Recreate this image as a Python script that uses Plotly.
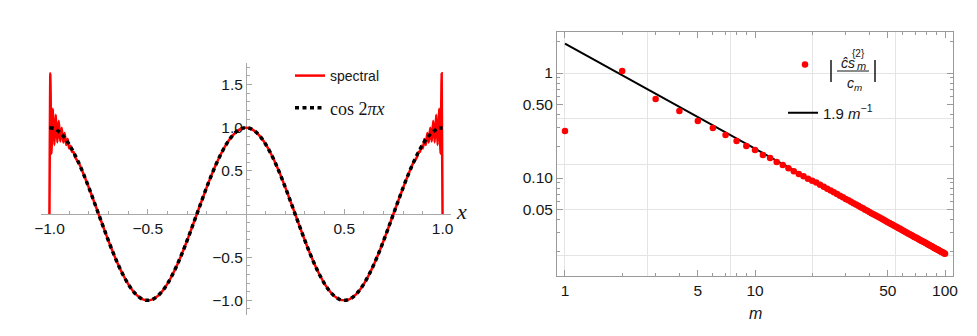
import plotly.graph_objects as go

W, H = 977, 336

# left panel: cos 2πx and its spectral approximation
cos_x = [round(-1 + 0.025 * i, 3) for i in range(81)]
cos_y = [1.0, 0.988, 0.951, 0.891, 0.809, 0.707, 0.588, 0.454, 0.309, 0.156, 0.0,
         -0.156, -0.309, -0.454, -0.588, -0.707, -0.809, -0.891, -0.951, -0.988, -1.0,
         -0.988, -0.951, -0.891, -0.809, -0.707, -0.588, -0.454, -0.309, -0.156, 0.0,
         0.156, 0.309, 0.454, 0.588, 0.707, 0.809, 0.891, 0.951, 0.988, 1.0,
         0.988, 0.951, 0.891, 0.809, 0.707, 0.588, 0.454, 0.309, 0.156, 0.0,
         -0.156, -0.309, -0.454, -0.588, -0.707, -0.809, -0.891, -0.951, -0.988, -1.0,
         -0.988, -0.951, -0.891, -0.809, -0.707, -0.588, -0.454, -0.309, -0.156, 0.0,
         0.156, 0.309, 0.454, 0.588, 0.707, 0.809, 0.891, 0.951, 0.988, 1.0]

# Gibbs oscillations at the two ends
spec_left_x = [-1.0, -0.9955, -0.990, -0.9825, -0.975, -0.9675, -0.960, -0.9525, -0.945,
               -0.9375, -0.930, -0.9225, -0.915, -0.9075, -0.900, -0.8925, -0.885, -0.8775, -0.870]
spec_left_y = [0.0, 1.63, 0.70, 1.22, 0.80, 1.15, 0.83, 1.08, 0.84,
               1.00, 0.83, 0.94, 0.80, 0.87, 0.76, 0.79, 0.72, 0.72, 0.66]
spec_right_x = [0.870, 0.8775, 0.885, 0.8925, 0.900, 0.9075, 0.915, 0.9225, 0.930,
                0.9375, 0.945, 0.9525, 0.960, 0.9675, 0.975, 0.9825, 0.990, 0.9955, 1.0]
spec_right_y = [0.66, 0.72, 0.72, 0.79, 0.76, 0.87, 0.80, 0.94, 0.83,
                1.00, 0.84, 1.08, 0.83, 1.15, 0.80, 1.22, 0.70, 1.63, 0.0]

spec_x = spec_left_x + cos_x[6:75] + spec_right_x
spec_y = spec_left_y + cos_y[6:75] + spec_right_y

# right panel: coefficient ratios vs m
m_vals = list(range(1, 101))
ratio_vals = [0.28, 1.045, 0.565, 0.435, 0.35, 0.30, 0.257, 0.225, 0.202, 0.185,
              0.166, 0.155, 0.142, 0.133, 0.124, 0.116, 0.109, 0.104, 0.0985, 0.094,
              0.0905, 0.0864, 0.0826, 0.0792, 0.0760, 0.0731, 0.0704, 0.0679, 0.0655, 0.0633,
              0.0613, 0.0594, 0.0576, 0.0559, 0.0543, 0.0528, 0.0514, 0.0500, 0.0487, 0.0475,
              0.0463, 0.0452, 0.0442, 0.0432, 0.0422, 0.0413, 0.0404, 0.0396, 0.0388, 0.0380,
              0.0373, 0.0365, 0.0358, 0.0352, 0.0345, 0.0339, 0.0333, 0.0328, 0.0322, 0.0317,
              0.0311, 0.0306, 0.0302, 0.0297, 0.0292, 0.0288, 0.0284, 0.0279, 0.0275, 0.0271,
              0.0268, 0.0264, 0.0260, 0.0257, 0.0253, 0.0250, 0.0247, 0.0244, 0.0241, 0.0238,
              0.0235, 0.0232, 0.0229, 0.0226, 0.0224, 0.0221, 0.0218, 0.0216, 0.0213, 0.0211,
              0.0209, 0.0207, 0.0204, 0.0202, 0.0200, 0.0198, 0.0196, 0.0194, 0.0192, 0.0190]
fit_m = [1, 100]
fit_y = [1.9, 0.019]

# log-scale gridlines sit at powers of e
grid_x = [1.0, 2.718, 7.389, 20.09, 54.60]
grid_y = [1.0, 0.3679, 0.1353, 0.04979, 0.01832]

x_major = [1, 5, 10, 50, 100]
x_minor = [2, 3, 4, 6, 7, 8, 9, 20, 30, 40, 60, 70, 80, 90]
y_major = [0.05, 0.1, 0.5, 1]
y_major_text = ["0.05", "0.10", "0.50", "1"]
y_minor = [0.02, 0.03, 0.04, 0.06, 0.07, 0.08, 0.09, 0.2, 0.3, 0.4, 0.6, 0.7, 0.8, 0.9, 2]

SANS = "Liberation Sans"
SERIF = "Liberation Serif"
TXT = "#161616"


def px(x):
    return x / W


def py(y):
    return 1 - y / H


fig = go.Figure()

fig.add_trace(go.Scatter(
    x=spec_x, y=spec_y, mode="lines", name="spectral",
    line=dict(color="#ff0000", width=2.5, shape="spline", smoothing=0.5),
    xaxis="x", yaxis="y", legend="legend",
))
fig.add_trace(go.Scatter(
    x=cos_x, y=cos_y, mode="lines", name="cos 2<i>πx</i>",
    line=dict(color="black", width=3.5, dash="4px,3.5px", shape="spline"),
    xaxis="x", yaxis="y", legend="legend2",
))
fig.add_trace(go.Scatter(
    x=fit_m, y=fit_y, mode="lines", name="1.9 <i>m</i><sup>−1</sup>",
    line=dict(color="black", width=2),
    xaxis="x2", yaxis="y2", legend="legend4",
))
fig.add_trace(go.Scatter(
    x=m_vals, y=ratio_vals, mode="markers", name=" ",
    marker=dict(color="#ff0000", size=6.5),
    xaxis="x2", yaxis="y2", legend="legend3",
))
# empty trace to hold the grid axes
fig.add_trace(go.Scatter(x=[], y=[], xaxis="x3", yaxis="y3", showlegend=False))

left_dom_x = [px(33), px(443)]
left_dom_y = [py(307), py(55)]
right_dom_x = [px(549), px(945)]
right_dom_y = [py(268), py(24)]

tickfont = dict(family=SANS, size=15.5, color=TXT)
axis_gray = "#a8a8a8"
frame_gray = "#9a9a9a"

fig.update_layout(
    width=W, height=H,
    margin=dict(l=0, r=0, t=0, b=0),
    paper_bgcolor="white", plot_bgcolor="white",
    showlegend=True,
    xaxis=dict(
        domain=left_dom_x, range=[-1.043, 1.043], anchor="free", position=py(206),
        showgrid=False, zeroline=False, showline=True, linecolor=axis_gray, linewidth=1,
        tickvals=[-1, -0.5, 0.5, 1], ticktext=["−1.0", "−0.5", "0.5", "1.0"],
        ticks="inside", ticklen=5, tickcolor=axis_gray, tickfont=tickfont,
        minor=dict(dtick=0.1, tick0=0, ticks="inside", ticklen=3, tickcolor=axis_gray),
        layer="below traces", automargin=False,
    ),
    yaxis=dict(
        domain=left_dom_y, range=[-1.17, 1.75], anchor="free", position=px(238),
        showgrid=False, zeroline=False, showline=True, linecolor=axis_gray, linewidth=1,
        tickvals=[-1, -0.5, 0.5, 1, 1.5], ticktext=["−1.0", "−0.5", "0.5", "1.0", "1.5"],
        ticks="inside", ticklen=5, tickcolor=axis_gray, tickfont=tickfont,
        minor=dict(dtick=0.1, tick0=0, ticks="inside", ticklen=3, tickcolor=axis_gray),
        layer="below traces", automargin=False,
    ),
    xaxis2=dict(
        domain=right_dom_x, type="log", range=[-0.042, 2.042], anchor="y2",
        showgrid=False, zeroline=False, showline=True, mirror="allticks",
        linecolor=frame_gray, linewidth=1,
        tickvals=x_major, ticktext=[str(v) for v in x_major],
        ticks="inside", ticklen=6, tickcolor=frame_gray, tickfont=tickfont,
        minor=dict(tickmode="array", tickvals=x_minor, ticks="inside", ticklen=3,
                   tickcolor=frame_gray, showgrid=False),
        automargin=False,
    ),
    yaxis2=dict(
        domain=right_dom_y, type="log", range=[-1.933, 0.3905], anchor="x2",
        showgrid=False, zeroline=False, showline=True, mirror="allticks",
        linecolor=frame_gray, linewidth=1,
        tickvals=y_major, ticktext=y_major_text,
        ticks="inside", ticklen=6, tickcolor=frame_gray, tickfont=tickfont,
        minor=dict(tickmode="array", tickvals=y_minor, ticks="inside", ticklen=3,
                   tickcolor=frame_gray, showgrid=False),
        automargin=False,
    ),
    xaxis3=dict(
        domain=right_dom_x, type="log", range=[-0.042, 2.042], overlaying="x2", anchor="y3",
        tickvals=grid_x, showticklabels=False, ticks="", showgrid=True,
        gridcolor="#e4e4e4", gridwidth=1, zeroline=False, showline=False,
    ),
    yaxis3=dict(
        domain=right_dom_y, type="log", range=[-1.933, 0.3905], overlaying="y2", anchor="x3",
        tickvals=grid_y, showticklabels=False, ticks="", showgrid=True,
        gridcolor="#e4e4e4", gridwidth=1, zeroline=False, showline=False,
    ),
    legend=dict(x=px(282), y=py(68), xanchor="left", yanchor="middle",
                bgcolor="rgba(0,0,0,0)", borderwidth=0,
                font=dict(family=SANS, size=14, color=TXT)),
    legend2=dict(x=px(282), y=py(100), xanchor="left", yanchor="middle",
                 bgcolor="rgba(0,0,0,0)", borderwidth=0,
                 font=dict(family=SERIF, size=18, color=TXT)),
    legend3=dict(x=px(777), y=py(57), xanchor="left", yanchor="middle",
                 bgcolor="rgba(0,0,0,0)", borderwidth=0,
                 font=dict(family=SANS, size=14, color=TXT)),
    legend4=dict(x=px(775), y=py(105), xanchor="left", yanchor="middle",
                 bgcolor="rgba(0,0,0,0)", borderwidth=0,
                 font=dict(family=SANS, size=15, color=TXT)),
)

# axis labels
fig.add_annotation(x=px(453), y=py(204), xref="paper", yref="paper", text="<i>x</i>",
                   showarrow=False, xanchor="center", yanchor="middle",
                   font=dict(family=SERIF, size=22, color=TXT))
fig.add_annotation(x=px(747), y=py(305), xref="paper", yref="paper", text="<i>m</i>",
                   showarrow=False, xanchor="center", yanchor="middle",
                   font=dict(family=SANS, size=16, color=TXT))

# legend label |ĉs_m^{2} / c_m|
fig.add_annotation(x=px(840), y=py(55), xref="paper", yref="paper", text="<i>ĉs</i>",
                   showarrow=False, xanchor="center", yanchor="middle",
                   font=dict(family=SANS, size=14, color=TXT))
fig.add_annotation(x=px(853), y=py(58), xref="paper", yref="paper", text="<i>m</i>",
                   showarrow=False, xanchor="center", yanchor="middle",
                   font=dict(family=SANS, size=11, color=TXT))
fig.add_annotation(x=px(850), y=py(46), xref="paper", yref="paper", text="{2}",
                   showarrow=False, xanchor="center", yanchor="middle",
                   font=dict(family=SANS, size=10, color=TXT))
fig.add_annotation(x=px(846), y=py(76), xref="paper", yref="paper",
                   text="<i>c</i><sub><i>m</i></sub>",
                   showarrow=False, xanchor="center", yanchor="middle",
                   font=dict(family=SANS, size=14, color=TXT))
fig.add_shape(type="line", xref="paper", yref="paper",
              x0=px(829), x1=px(861), y0=py(63), y1=py(63),
              line=dict(color=TXT, width=1))
for bx in (823, 867):
    fig.add_shape(type="line", xref="paper", yref="paper",
                  x0=px(bx), x1=px(bx), y0=py(52), y1=py(74),
                  line=dict(color=TXT, width=1.5))

fig.write_html("out.html")
